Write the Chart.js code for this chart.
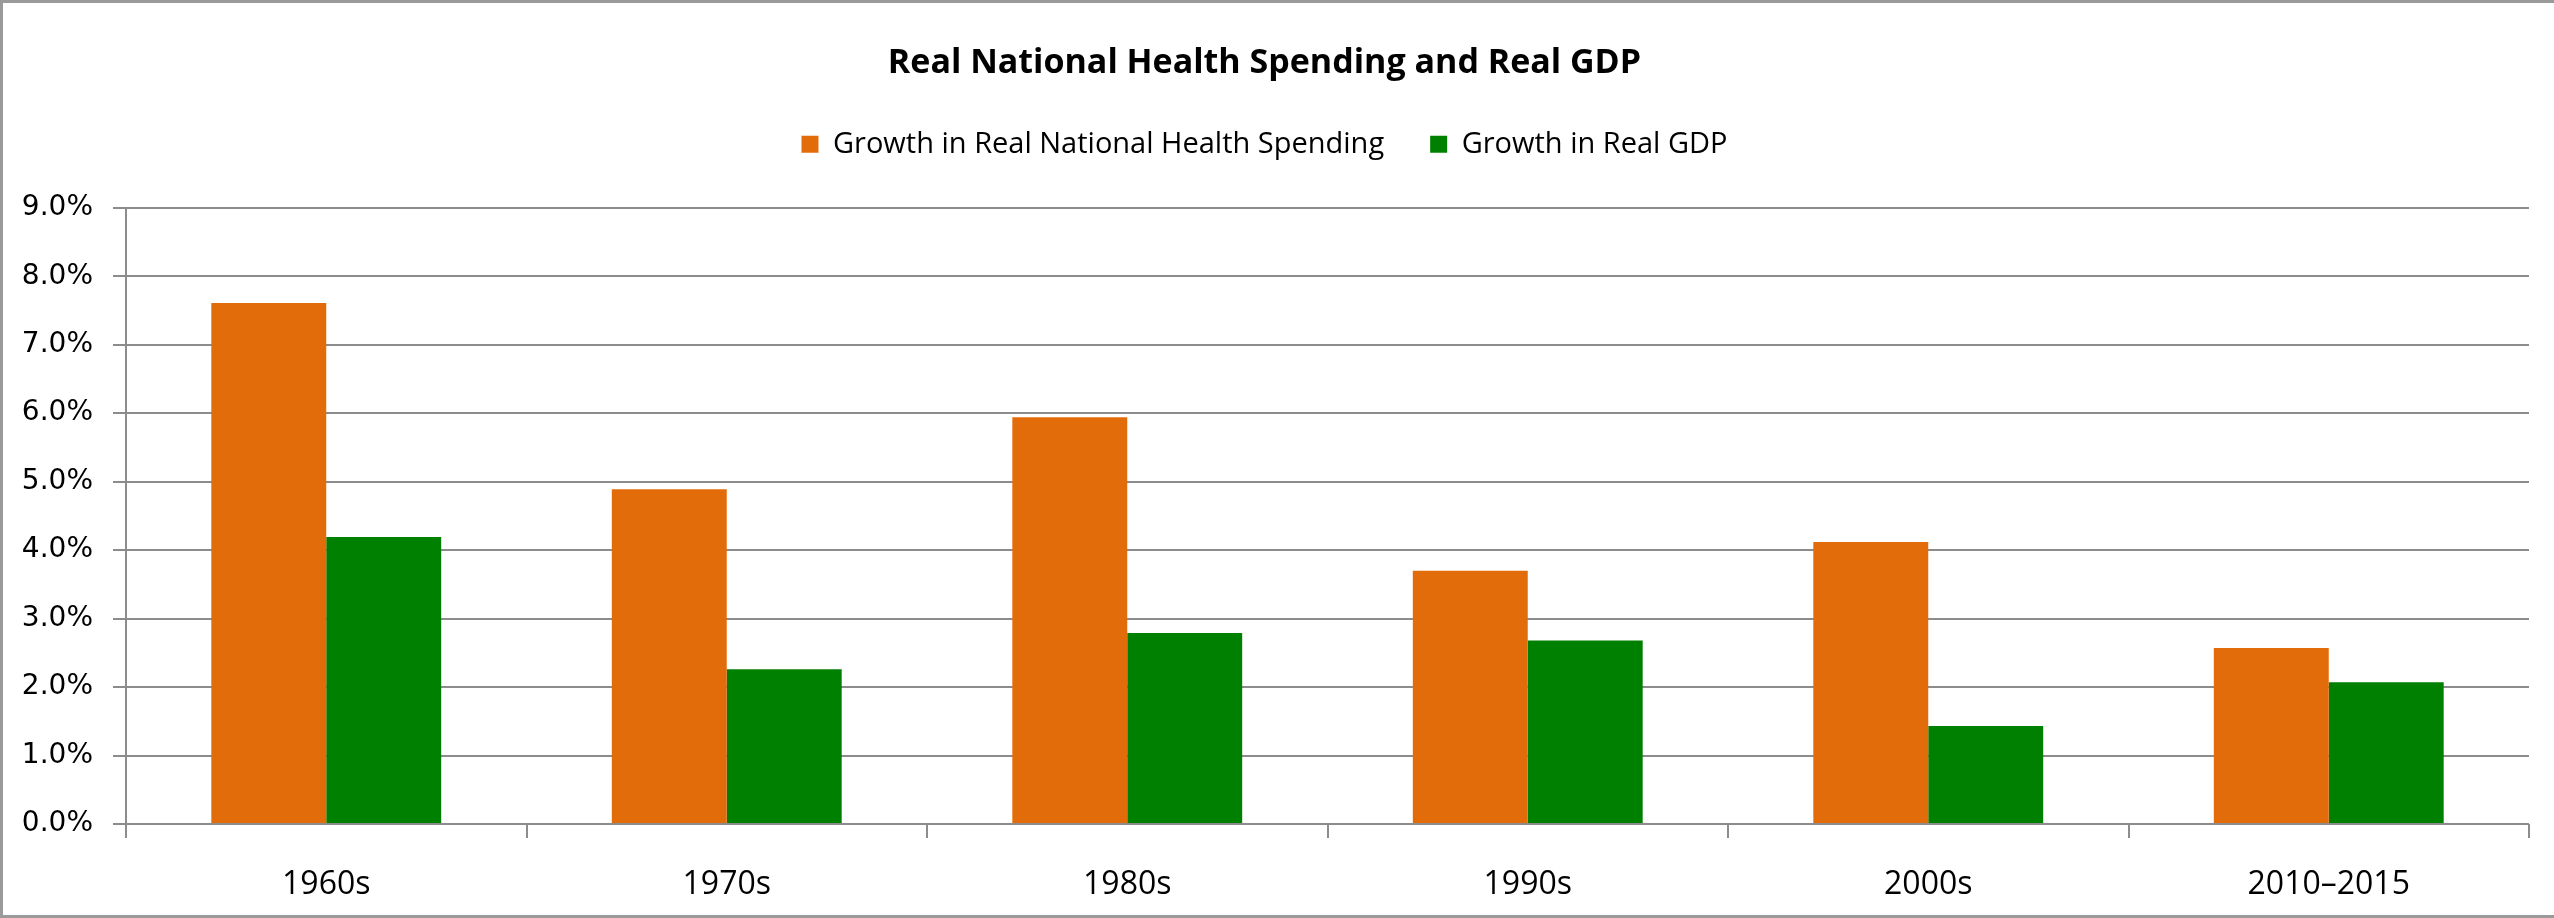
<!DOCTYPE html>
<html>
<head>
<meta charset="utf-8">
<script src="https://cdn.jsdelivr.net/npm/chart.js@4"></script>
<style>
  html, body { margin: 0; padding: 0; background: #fff; }
  #wrap { position: relative; width: 2554px; height: 918px; }
  #frame {
    position: absolute; left: 0; top: 0; width: 2554px; height: 918px;
    box-sizing: border-box; border-left: 3px solid #9a9a9a; border-top: 3px solid #9a9a9a;
    border-bottom: 3px solid #9a9a9a; pointer-events: none;
  }
</style>
</head>
<body>
<div id="wrap">
  <canvas id="chart" width="2554" height="918"></canvas>
  <div id="frame"></div>
</div>
<script>
// data
const categories = ["1960s", "1970s", "1980s", "1990s", "2000s", "2010–2015"];
const healthSpending = [7.61, 4.89, 5.94, 3.70, 4.12, 2.57];
const realGdp = [4.19, 2.26, 2.79, 2.68, 1.43, 2.07];
const yTicks = [0, 1, 2, 3, 4, 5, 6, 7, 8, 9];

const ORANGE = "#e36c0a";
const GREEN = "#008000";
const GRID = "#8c8c8c";
const FONT = "'Open Sans', sans-serif";

// push the plot down below the legend
const legendSpacer = {
  id: "legendSpacer",
  beforeInit(chart) {
    const fit = chart.legend.fit;
    chart.legend.fit = function () {
      fit.bind(chart.legend)();
      this.height += 39;
    };
  }
};

new Chart(document.getElementById("chart").getContext("2d"), {
  type: "bar",
  data: {
    labels: categories,
    datasets: [
      { label: "Growth in Real National Health Spending", data: healthSpending, backgroundColor: ORANGE },
      { label: "Growth in Real GDP", data: realGdp, backgroundColor: GREEN }
    ]
  },
  options: {
    responsive: false,
    animation: false,
    devicePixelRatio: 1,
    layout: { padding: { left: 0, right: 25, top: 0, bottom: 13 } },
    datasets: { bar: { categoryPercentage: 0.574, barPercentage: 1 } },
    plugins: {
      title: {
        display: true,
        text: "Real National Health Spending and Real GDP",
        color: "#000",
        font: { family: FONT, size: 34, weight: "bold" },
        padding: { top: 43, bottom: 0 }
      },
      legend: {
        position: "top",
        labels: {
          color: "#000",
          font: { family: FONT, size: 29 },
          boxWidth: 17,
          boxHeight: 17,
          padding: 46
        }
      },
      tooltip: { enabled: false }
    },
    scales: {
      x: {
        offset: true,
        afterFit(scale) {
          scale.height = 81;
        },
        grid: { display: true, drawOnChartArea: false, color: GRID, lineWidth: 2, tickLength: 14, offset: true },
        border: { display: false },
        ticks: {
          color: "#000",
          padding: 28,
          font: { family: FONT, size: 32 }
        }
      },
      y: {
        min: 0,
        max: 9,
        afterBuildTicks(scale) {
          scale.ticks = yTicks.map(v => ({ value: v }));
        },
        afterFit(scale) {
          scale.width = 126;
        },
        grid: { color: GRID, lineWidth: 2, tickLength: 13 },
        border: { display: true, color: GRID, width: 2 },
        ticks: {
          color: "#000",
          padding: 20,
          font: { family: "'DejaVu Sans', sans-serif", size: 28 },
          callback: v => v.toFixed(1) + "%"
        }
      }
    }
  },
  plugins: [legendSpacer]
});
</script>
</body>
</html>
